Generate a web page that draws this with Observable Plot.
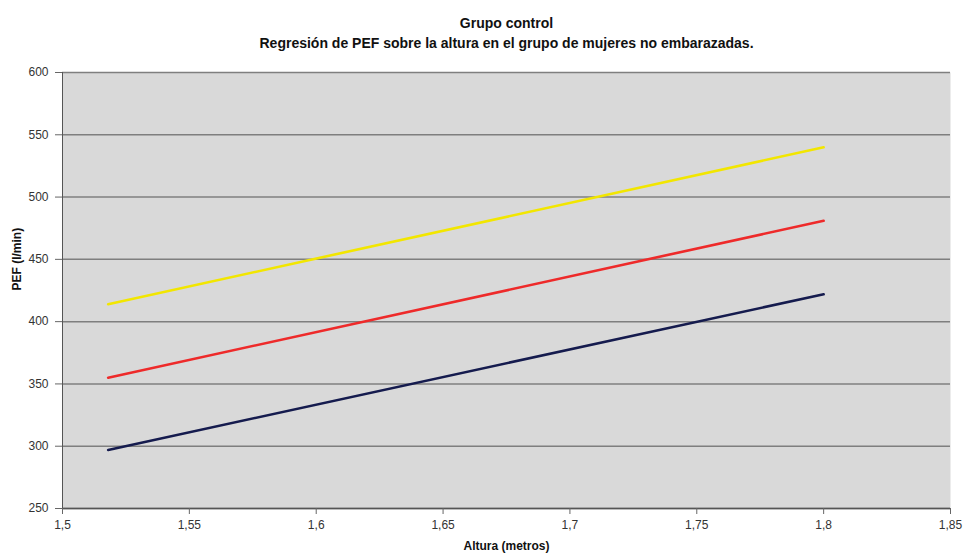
<!DOCTYPE html>
<html>
<head>
<meta charset="utf-8">
<script src="https://cdn.jsdelivr.net/npm/d3@7"></script>
<script src="https://cdn.jsdelivr.net/npm/@observablehq/plot@0.6"></script>
<style>
  body { margin: 0; background: #fff; }
  #chart { position: relative; width: 963px; height: 557px; }
</style>
</head>
<body>
<div id="chart"></div>
<script>
const alturas = [1.518, 1.8];
const serieSuperior = [414, 540];
const serieMedia = [355, 481];
const serieInferior = [297, 422];
const series = [
  {nombre: "superior", valores: serieSuperior, color: "#f2e600"},
  {nombre: "media", valores: serieMedia, color: "#ee2a2a"},
  {nombre: "inferior", valores: serieInferior, color: "#151b4e"}
];
const xTicks = [1.5, 1.55, 1.6, 1.65, 1.7, 1.75, 1.8, 1.85];
const yTicks = [250, 300, 350, 400, 450, 500, 550, 600];
const titulo = "Grupo control";
const subtitulo = "Regresión de PEF sobre la altura en el grupo de mujeres no embarazadas.";

const data = series.flatMap(s => alturas.map((a, i) => ({x: a, y: s.valores[i], serie: s.nombre})));
const fmt = v => String(v).replace(".", ",");
const font = "Liberation Sans, Arial, sans-serif";

const plot = Plot.plot({
  width: 963,
  height: 557,
  marginTop: 72,
  marginBottom: 49,
  marginLeft: 62,
  marginRight: 13,
  style: {fontFamily: font, fontSize: "12px", color: "#333", background: "#fff"},
  x: {domain: [1.5, 1.85], ticks: xTicks, tickFormat: fmt, label: null},
  y: {domain: [250, 600], ticks: yTicks, label: null},
  color: {domain: series.map(s => s.nombre), range: series.map(s => s.color)},
  marks: [
    Plot.frame({fill: "#d9d9d9", stroke: null}),
    Plot.gridY(yTicks, {stroke: "#7f7f7f", strokeOpacity: 1, strokeWidth: 1.5}),
    Plot.ruleX([1.5], {stroke: "#555", strokeWidth: 1}),
    Plot.ruleY([250], {stroke: "#555", strokeWidth: 1.5}),
    Plot.axisX({ticks: xTicks, tickFormat: fmt, tickSize: 6, tickPadding: 6, stroke: "#666", fill: "#333", fontSize: 12}),
    Plot.axisY({ticks: yTicks, tickSize: 7, tickPadding: 7, stroke: "#666", fill: "#333", fontSize: 12}),
    Plot.line(data, {x: "x", y: "y", z: "serie", stroke: "serie", strokeWidth: 2.6}),
    Plot.text([titulo], {frameAnchor: "top", dy: -54, fontWeight: "bold", fontSize: 14, fill: "#111"}),
    Plot.text([subtitulo], {frameAnchor: "top", dy: -34, fontWeight: "bold", fontSize: 14, fill: "#111"}),
    Plot.text(["Altura (metros)"], {frameAnchor: "bottom", dy: 41, fontWeight: "bold", fontSize: 12, fill: "#111"}),
    Plot.text(["PEF (l/min)"], {frameAnchor: "left", dx: -45, rotate: -90, fontWeight: "bold", fontSize: 12, fill: "#111"})
  ]
});
document.getElementById("chart").appendChild(plot);
</script>
</body>
</html>
